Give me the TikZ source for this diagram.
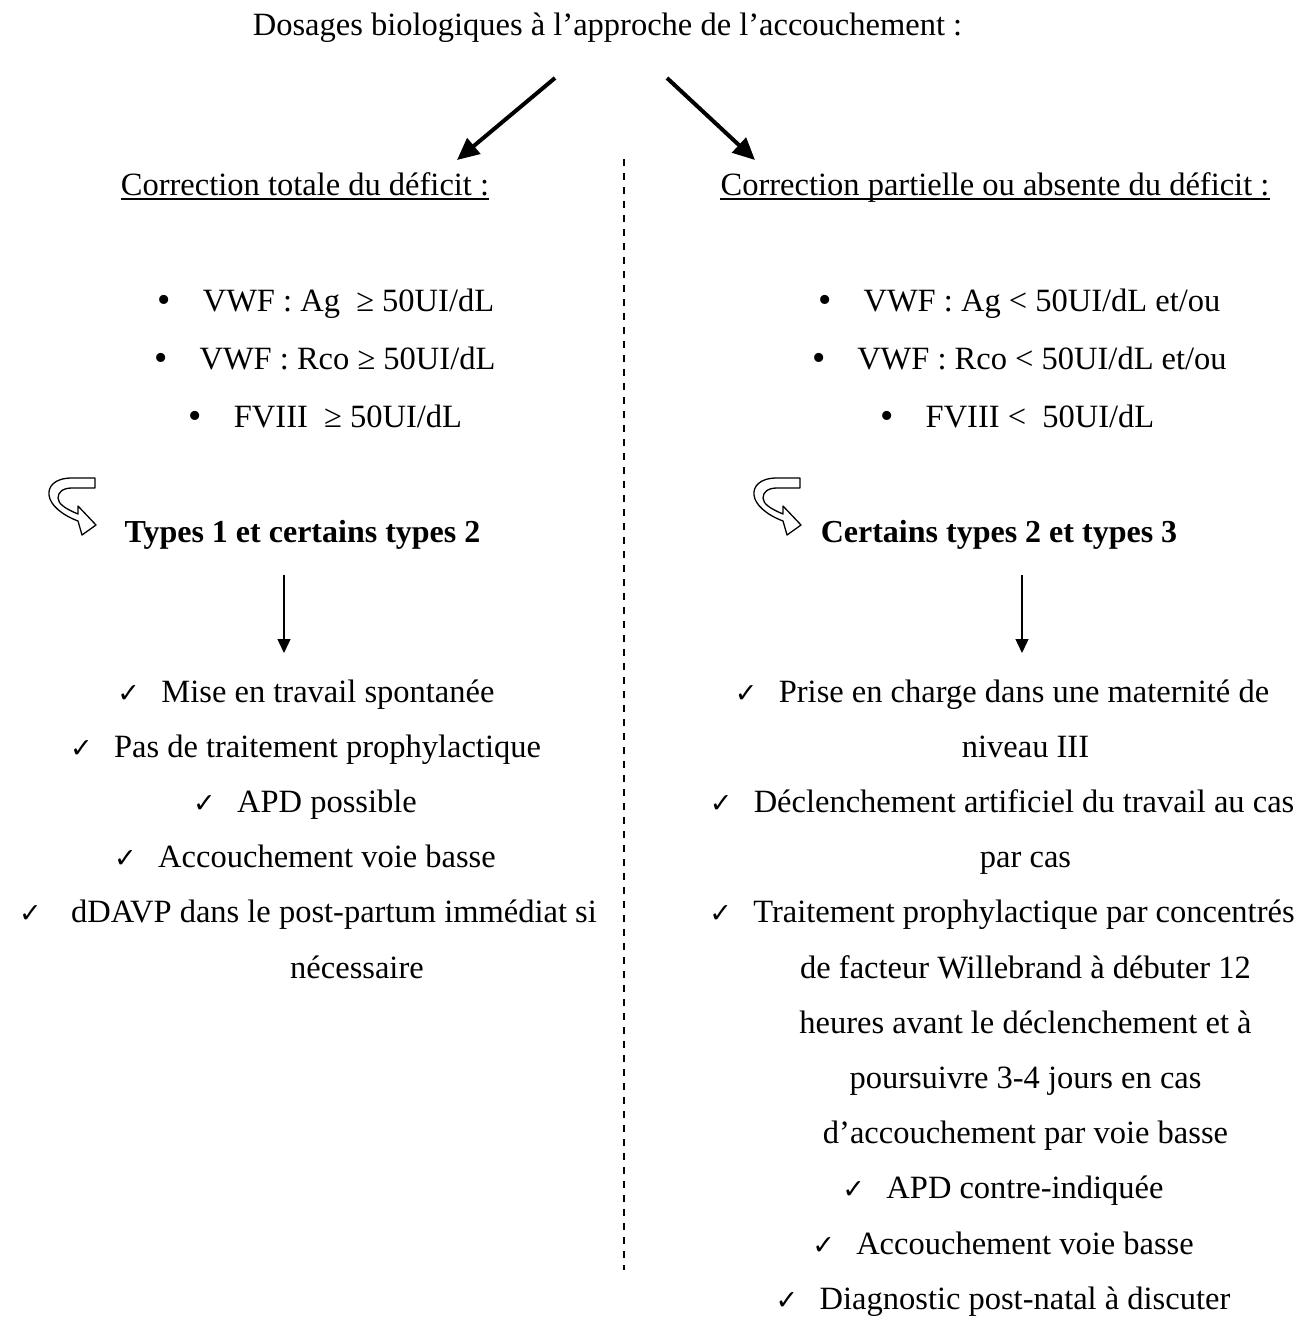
\documentclass[tikz,border=0pt]{standalone}
\usepackage{fontspec}
\setmainfont{Liberation Serif}
\newfontfamily\djv{DejaVu Sans}
\usetikzlibrary{arrows.meta}
\newcommand\ckmark{{\djv\fontsize{27}{27}\selectfont ✓}}
\newcommand\ckline[1]{\makebox[44pt][l]{\ckmark}#1}
\newcommand\bline[1]{\makebox[45pt][l]{\raisebox{-1.5pt}{\fontsize{38}{38}\selectfont\textbullet}}#1}
\begin{document}
\begin{tikzpicture}[x=1pt,y=-1pt,
  txt/.style={anchor=base,inner sep=0pt,font=\fontsize{32.5}{39}\selectfont},
  bld/.style={anchor=base,inner sep=0pt,font=\fontsize{32}{39}\selectfont\bfseries},
  bigarrow/.style={line width=4pt,-{Triangle[length=22pt,width=20pt]}},
  smallarrow/.style={line width=1.3pt,-{Triangle[length=14pt,width=13pt]}},
  uturn/.style={draw=black,fill=white,line width=1.3pt,line join=round},
  sep/.style={line width=1.5pt,dash pattern=on 7pt off 7pt},
  uline/.style={line width=1.5pt}]
\useasboundingbox[fill=white] (0,0) rectangle (1304,1317);

% title and top arrows
\node[txt] (title) at (607.5,35) {Dosages biologiques à l’approche de l’accouchement :};
\coordinate (a1s) at (555,78);
\coordinate (a1e) at (457,160);
\coordinate (a2s) at (667,78);
\coordinate (a2e) at (755,160);
\draw[bigarrow] (a1s) -- (a1e);
\draw[bigarrow] (a2s) -- (a2e);

% separator
\coordinate (d1) at (624,159);
\coordinate (d2) at (624,1270);
\draw[sep] (d1) -- (d2);

% headings
\node[txt] (hl) at (305,195) {Correction totale du déficit :};
\node[txt] (hr) at (995,195) {Correction partielle ou absente du déficit :};
\draw[uline] ([yshift=-4pt]hl.base west) -- ([yshift=-4pt]hl.base east);
\draw[uline] ([yshift=-4pt]hr.base west) -- ([yshift=-4pt]hr.base east);

% bullets
\node[txt] (b1) at (326,311) {\bline{VWF : Ag\ \ ≥ 50UI/dL}};
\node[txt] (b2) at (325,369) {\bline{VWF : Rco ≥ 50UI/dL}};
\node[txt] (b3) at (325.5,427) {\bline{FVIII\ \ ≥ 50UI/dL}};
\node[txt] (c1) at (1019.5,311) {\bline{VWF : Ag < 50UI/dL et/ou}};
\node[txt] (c2) at (1019.5,369) {\bline{VWF : Rco < 50UI/dL et/ou}};
\node[txt] (c3) at (1017.5,427) {\bline{FVIII <\ \ 50UI/dL}};

% u-turn arrows
\begin{scope}[shift={(48,478)}]
\draw[uturn] (47,0) -- (24,0) .. controls (6,0) and (0,9) .. (1,17)
  .. controls (2,27) and (14,37) .. (30,43) -- (34,57) -- (48,47) -- (30,28) -- (30,36)
  .. controls (18,31) and (10,26) .. (10,20) .. controls (10,14) and (15,10) .. (24,10)
  -- (47,10) -- cycle;
\end{scope}
\begin{scope}[shift={(753,478)}]
\draw[uturn] (47,0) -- (24,0) .. controls (6,0) and (0,9) .. (1,17)
  .. controls (2,27) and (14,37) .. (30,43) -- (34,57) -- (48,47) -- (30,28) -- (30,36)
  .. controls (18,31) and (10,26) .. (10,20) .. controls (10,14) and (15,10) .. (24,10)
  -- (47,10) -- cycle;
\end{scope}

% bold types
\node[bld] (tl) at (302.5,542) {Types 1 et certains types 2};
\node[bld] (tr) at (999,542) {Certains types 2 et types 3};

% down arrows
\coordinate (dl1) at (284,575);
\coordinate (dl2) at (284,653);
\coordinate (dr1) at (1022,575);
\coordinate (dr2) at (1022,653);
\draw[smallarrow] (dl1) -- (dl2);
\draw[smallarrow] (dr1) -- (dr2);

% left list
\node[txt] (l1) at (306,702) {\ckline{Mise en travail spontanée}};
\node[txt] (l2) at (305.5,757.2) {\ckline{Pas de traitement prophylactique}};
\node[txt] (l3) at (305,812.4) {\ckline{APD possible}};
\node[txt] (l4) at (305,867.6) {\ckline{Accouchement voie basse}};
\node[txt,anchor=base east] (l5) at (597,922.8) {\makebox[52pt][l]{\ckmark}dDAVP dans le post-partum immédiat si};
\node[txt] (l6) at (357,978) {nécessaire};

% right list
\node[txt] (r1) at (1002,702) {\ckline{Prise en charge dans une maternité de}};
\node[txt] (r2) at (1025.5,757.2) {niveau III};
\node[txt] (r3) at (1002,812.4) {\ckline{Déclenchement artificiel du travail au cas}};
\node[txt] (r4) at (1025.5,867.6) {par cas};
\node[txt] (r5) at (1002,922.8) {\ckline{Traitement prophylactique par concentrés}};
\node[txt] (r6) at (1025.5,978) {de facteur Willebrand à débuter 12};
\node[txt] (r7) at (1025.5,1033.2) {heures avant le déclenchement et à};
\node[txt] (r8) at (1025.5,1088.4) {poursuivre 3-4 jours en cas};
\node[txt] (r9) at (1025.5,1143.6) {d’accouchement par voie basse};
\node[txt] (r10) at (1003,1198.8) {\ckline{APD contre-indiquée}};
\node[txt] (r11) at (1003,1254) {\ckline{Accouchement voie basse}};
\node[txt] (r12) at (1003,1309.2) {\ckline{Diagnostic post-natal à discuter}};
\end{tikzpicture}
\end{document}
